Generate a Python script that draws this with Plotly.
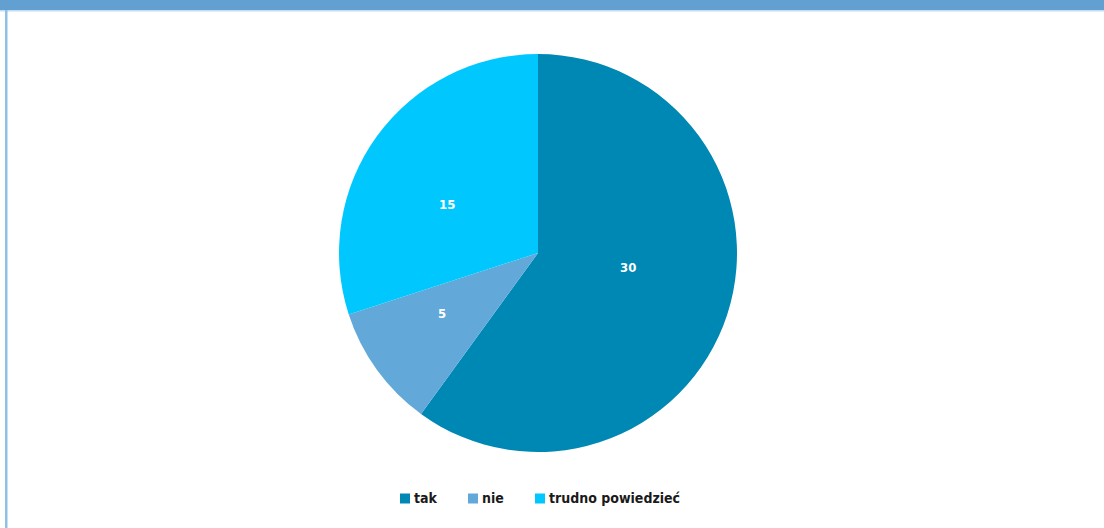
import math
import plotly.graph_objects as go

# Survey answers
labels = ["tak", "nie", "trudno powiedzieć"]
values = [30, 5, 15]
colors = ["#0088b4", "#62a8d8", "#00c8ff"]

W, H = 1104, 528
cx, cy, r = 538, 253, 199
FONT = "DejaVu Sans Condensed, Roboto, sans-serif"

fig = go.Figure(
    go.Pie(
        labels=labels,
        values=values,
        sort=False,
        direction="clockwise",
        rotation=0,
        marker=dict(colors=colors, line=dict(width=0)),
        textinfo="none",
        hoverinfo="label+value",
        showlegend=False,
        domain=dict(
            x=[(cx - r) / W, (cx + r) / W],
            y=[(H - cy - r) / H, (H - cy + r) / H],
        ),
    )
)

# value labels near each slice's mid-angle (radius fraction, angle nudge in degrees)
label_radius = [0.46, 0.57, 0.52]
label_nudge = [-9.0, 3.5, -8.0]
annotations = []
total = sum(values)
start = 0.0
for v, frac, nudge in zip(values, label_radius, label_nudge):
    mid = (start + v / 2) / total * 2 * math.pi + math.radians(nudge)
    start += v
    px = cx + frac * r * math.sin(mid)
    py = cy - frac * r * math.cos(mid)
    annotations.append(dict(
        x=px / W, y=1 - py / H, xref="paper", yref="paper",
        text=str(v), showarrow=False, xanchor="center", yanchor="middle",
        font=dict(family=FONT, size=13, color="white", weight="bold"),
    ))

# legend row
legend_x = [400, 468, 535]
legend_y = 498
shapes = [
    # header band
    dict(type="rect", xref="paper", yref="paper", x0=0, x1=1,
         y0=1 - 10 / H, y1=1, fillcolor="#62a0d2", line=dict(width=0), layer="above"),
    dict(type="rect", xref="paper", yref="paper", x0=0, x1=1,
         y0=1 - 11.5 / H, y1=1 - 10 / H, fillcolor="#c4dcf0", line=dict(width=0), layer="above"),
    # left frame edge
    dict(type="rect", xref="paper", yref="paper", x0=5 / W, x1=7.5 / W,
         y0=0, y1=1 - 10 / H, fillcolor="#8fc0e6", line=dict(width=0), layer="above"),
]
for lx, lab, col in zip(legend_x, labels, colors):
    shapes.append(dict(type="rect", xref="paper", yref="paper",
                       x0=lx / W, x1=(lx + 10) / W,
                       y0=1 - (legend_y + 5.5) / H, y1=1 - (legend_y - 4.5) / H,
                       fillcolor=col, line=dict(width=0)))
    annotations.append(dict(
        x=(lx + 12) / W, y=1 - legend_y / H, xref="paper", yref="paper",
        text=lab, showarrow=False, xanchor="left", yanchor="middle",
        font=dict(family=FONT, size=14, color="#1a1a1a", weight="bold"),
    ))

fig.update_layout(
    width=W,
    height=H,
    margin=dict(l=0, r=0, t=0, b=0),
    paper_bgcolor="white",
    shapes=shapes,
    annotations=annotations,
)

fig.write_html("out.html")
